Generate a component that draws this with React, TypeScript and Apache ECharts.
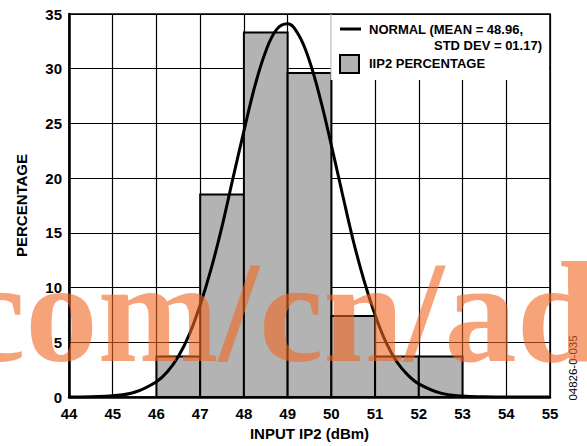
import React, { useEffect, useRef } from "react";
import * as echarts from "echarts";

// Histogram bins: [start, end] and percentage
const binStart = [46, 47, 48, 49, 50, 51, 52];
const binEnd = [47, 48, 49, 50, 51, 52, 53];
const binPct = [3.7, 18.5, 33.3, 29.6, 7.4, 3.7, 3.7];

// Normal curve points
const curveX = [44, 44.5, 45, 45.5, 46, 46.25, 46.5, 46.75, 47, 47.25, 47.5, 47.75, 48, 48.25, 48.5, 48.75, 49, 49.25, 49.5, 49.75, 50, 50.25, 50.5, 50.75, 51, 51.25, 51.5, 51.75, 52, 52.5, 53, 53.5, 54, 55];
const curveY = [0.0, 0.03, 0.11, 0.43, 1.4, 2.3, 3.7, 5.7, 8.4, 11.7, 15.6, 20.0, 24.3, 28.4, 31.6, 33.6, 34.1, 33.1, 30.7, 27.2, 23.0, 18.6, 14.3, 10.6, 7.5, 5.0, 3.2, 2.0, 1.2, 0.35, 0.09, 0.02, 0.0, 0.0];

const legendLine1 = "NORMAL (MEAN = 48.96,";
const legendLine2 = "STD DEV = 01.17)";
const legendBars = "IIP2 PERCENTAGE";
const xTitle = "INPUT IP2 (dBm)";
const yTitle = "PERCENTAGE";
const watermark = "com/cn/ad";
const figId = "04826-0-035";

const FONT = "'Liberation Sans', Arial, sans-serif";

export default function App() {
  const ref = useRef<HTMLDivElement>(null);
  useEffect(() => {
    document.body.style.margin = "0";
    if (!ref.current) return;
    const chart = echarts.init(ref.current, undefined, { renderer: "svg" });
    const barData = binStart.map((s, i) => [s, binEnd[i], binPct[i]]);
    const lineData = curveX.map((x, i) => [x, curveY[i]]);
    chart.setOption({
      animation: false,
      backgroundColor: "#fff",
      grid: {
        left: 69,
        right: 37,
        top: 14,
        bottom: 49,
        show: true,
        borderColor: "#000",
        borderWidth: 1.5,
        backgroundColor: "transparent",
      },
      xAxis: {
        type: "value",
        min: 44,
        max: 55,
        interval: 1,
        name: xTitle,
        nameLocation: "middle",
        nameGap: 29,
        nameTextStyle: { fontFamily: FONT, fontWeight: "bold", fontSize: 15, color: "#000" },
        axisLine: { show: true, lineStyle: { color: "#000", width: 2.5 } },
        axisTick: { show: false },
        axisLabel: { margin: 9, fontFamily: FONT, fontWeight: "bold", fontSize: 15, color: "#000" },
        splitLine: { show: true, lineStyle: { color: "#000", width: 1.2 } },
      },
      yAxis: {
        type: "value",
        min: 0,
        max: 35,
        interval: 5,
        name: yTitle,
        nameLocation: "middle",
        nameGap: 40,
        nameTextStyle: { fontFamily: FONT, fontWeight: "bold", fontSize: 15, color: "#000" },
        axisLine: { show: true, lineStyle: { color: "#000", width: 2.5 } },
        axisTick: { show: false },
        axisLabel: { margin: 7, fontFamily: FONT, fontWeight: "bold", fontSize: 15, color: "#000" },
        splitLine: { show: true, lineStyle: { color: "#000", width: 1.2 } },
      },
      series: [
        {
          type: "custom",
          data: barData,
          z: 3,
          renderItem: (params: any, api: any) => {
            const p0 = api.coord([api.value(0), api.value(2)]);
            const p1 = api.coord([api.value(1), 0]);
            return {
              type: "rect",
              shape: { x: p0[0], y: p0[1], width: p1[0] - p0[0], height: p1[1] - p0[1] },
              style: { fill: "#b3b3b3", stroke: "#000", lineWidth: 2 },
            };
          },
        },
        {
          type: "line",
          data: lineData,
          smooth: 0.4,
          symbol: "none",
          z: 5,
          lineStyle: { color: "#000", width: 3 },
        },
      ],
      graphic: [
        { type: "rect", z: 10, shape: { x: 331, y: 15, width: 218, height: 65 }, style: { fill: "#fff" } },
        { type: "line", z: 11, shape: { x1: 331, y1: 14, x2: 331, y2: 80 }, style: { stroke: "#bbb", lineWidth: 1 } },
        { type: "line", z: 11, shape: { x1: 340, y1: 29, x2: 361, y2: 29 }, style: { stroke: "#000", lineWidth: 3 } },
        { type: "rect", z: 11, shape: { x: 340, y: 55, width: 19, height: 18 }, style: { fill: "#b3b3b3", stroke: "#000", lineWidth: 2 } },
        { type: "text", z: 11, x: 369, y: 29, style: { text: legendLine1, fontFamily: FONT, fontWeight: "bold", fontSize: 13, fill: "#000", align: "left", verticalAlign: "middle" } },
        { type: "text", z: 11, x: 542, y: 45, style: { text: legendLine2, fontFamily: FONT, fontWeight: "bold", fontSize: 13, fill: "#000", align: "right", verticalAlign: "middle" } },
        { type: "text", z: 11, x: 369, y: 63, style: { text: legendBars, fontFamily: FONT, fontWeight: "bold", fontSize: 13, fill: "#000", align: "left", verticalAlign: "middle" } },
        { type: "text", z: 11, x: 573, y: 368, rotation: Math.PI / 2, style: { text: figId, fontFamily: FONT, fontSize: 11.5, fill: "#000", align: "center", verticalAlign: "middle" } },
        { type: "text", z: 100, x: -39, y: 312, style: { text: watermark, fontFamily: "'Liberation Serif', 'Times New Roman', serif", fontWeight: "bold", fontSize: 145, fill: "rgba(242,101,34,0.6)", align: "left", verticalAlign: "middle" } },
      ],
    });
    return () => chart.dispose();
  }, []);
  return <div ref={ref} style={{ width: 587, height: 446 }} />;
}
